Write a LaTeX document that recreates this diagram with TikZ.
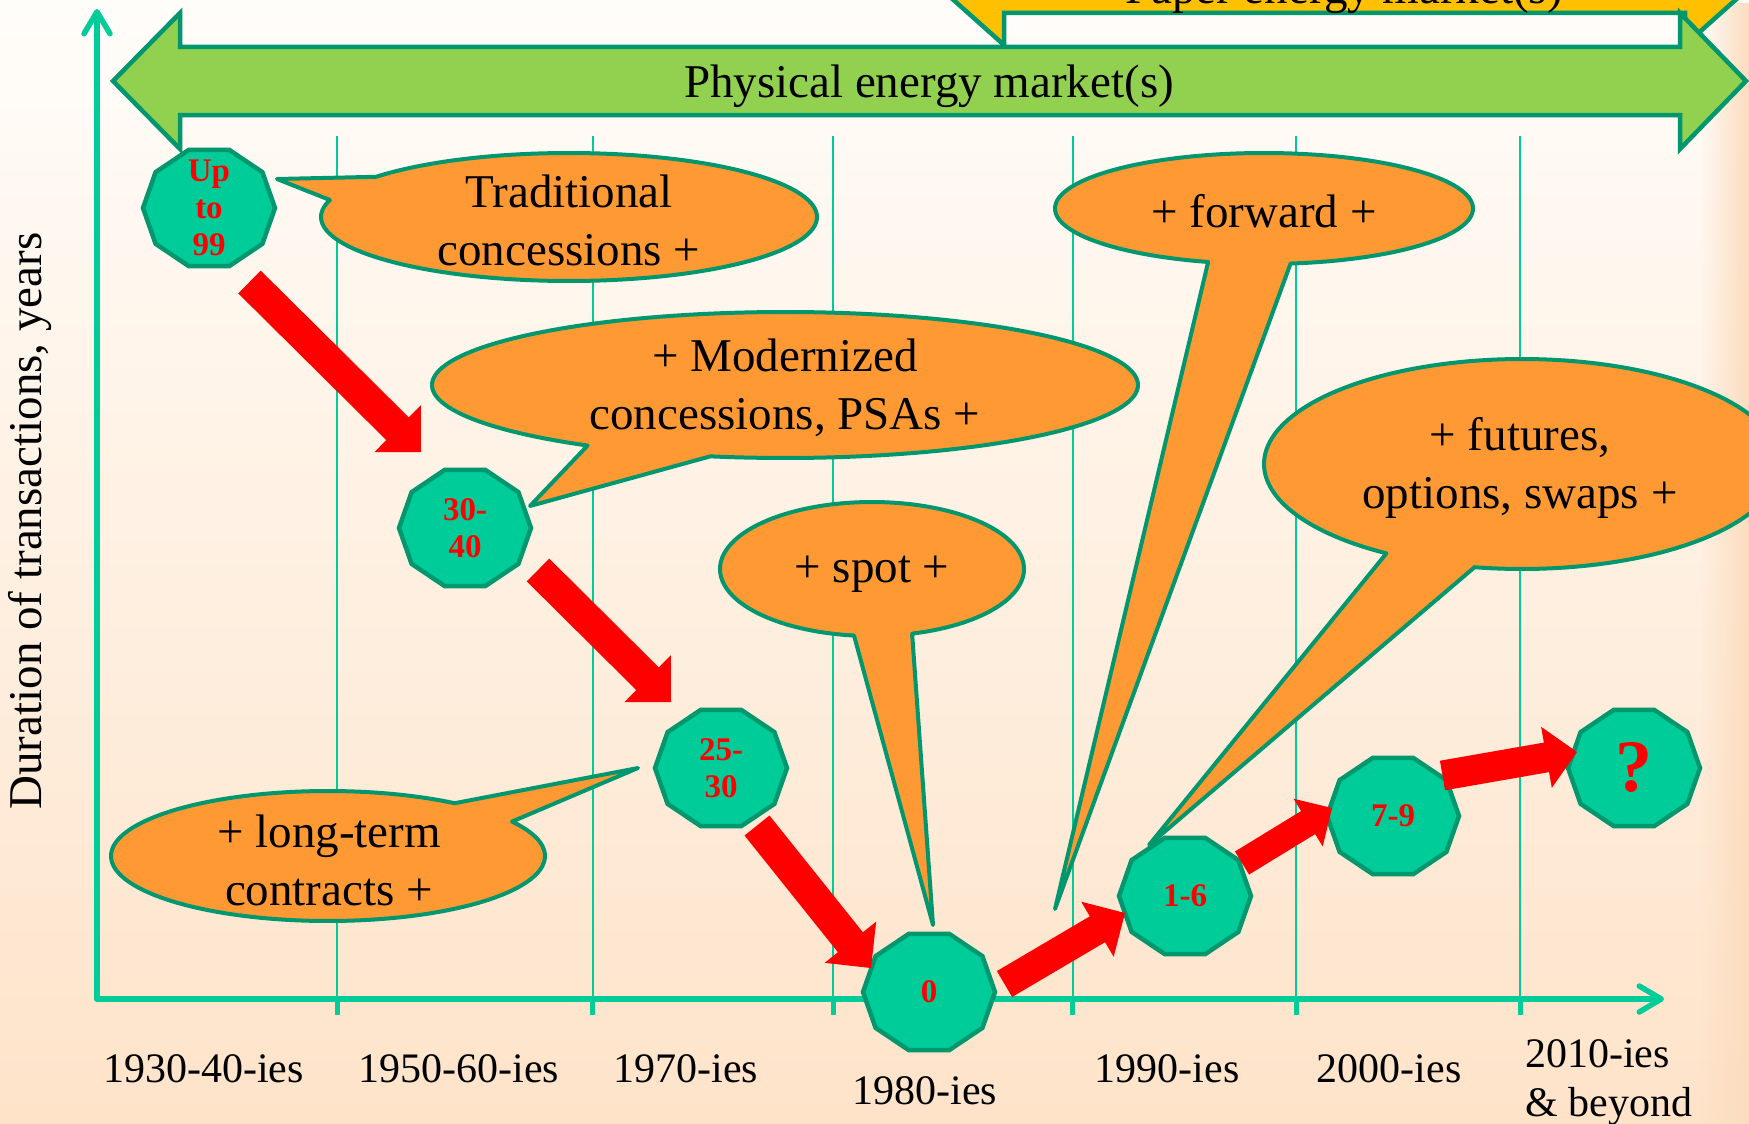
\documentclass[tikz,border=0pt]{standalone}
\usepackage{fontspec}
\setmainfont{Liberation Serif}
\usetikzlibrary{calc,fadings,arrows.meta}
\definecolor{teal1}{HTML}{00CC99}
\definecolor{tealdark}{HTML}{00966E}
\definecolor{bubblefill}{HTML}{FF9933}
\definecolor{greenarr}{HTML}{92D050}
\definecolor{paperarr}{HTML}{FFC000}
\definecolor{bgtop}{RGB}{255,253,250}
\definecolor{bgbot}{RGB}{254,227,201}
\definecolor{edgecol}{RGB}{252,220,190}
\tikzfading[name=fadeR, left color=transparent!100, right color=transparent!0]

% callout: cx, cy, rx, ry, angle a, angle b, a+360, tip coordinate name
\newcommand\mycallout[8]{%
  \filldraw[bubble] ({#1+#3*cos(#5)},{#2+#4*sin(#5)}) -- (#8) --
    plot[domain=#6:#7, samples=160] ({#1+#3*cos(\x)},{#2+#4*sin(\x)}) -- cycle;}
% decagon: name, x, y, text
\newcommand\mydeca[4]{%
  \filldraw[decag] plot[samples at={0,36,...,324}] ({#2+66*cos(\x)},{#3+61*sin(\x)}) -- cycle;
  \node[decatext] (#1) at (#2,#3) {#4};}
% block arrow: tail, tip, half shaft, half head, head length
\newcommand\redarrow[5]{%
  \fill[redarr] let \p1=(#1), \p2=(#2), \n1={atan2(\y2-\y1,\x2-\x1)} in
    ($(#1)+(\n1+90:#3pt)$) -- ($(#2)+(\n1+180:#5pt)+(\n1+90:#3pt)$) --
    ($(#2)+(\n1+180:#5pt)+(\n1+90:#4pt)$) -- (#2) --
    ($(#2)+(\n1+180:#5pt)+(\n1-90:#4pt)$) -- ($(#2)+(\n1+180:#5pt)+(\n1-90:#3pt)$) --
    ($(#1)+(\n1-90:#3pt)$) -- cycle;}

\begin{document}
\begin{tikzpicture}[x=1pt,y=-1pt,
  axis/.style={teal1, line width=5.5pt, line cap=round, -{Straight Barb[length=22pt,width=26pt,round]}},
  gridline/.style={teal1, line width=2pt},
  tickmark/.style={teal1, line width=5pt},
  bubble/.style={fill=bubblefill, draw=tealdark, line width=4pt, line join=round},
  decag/.style={fill=teal1, draw=tealdark, line width=4.5pt, line join=miter},
  decatext/.style={text=red, font=\bfseries\fontsize{33}{37}\selectfont, align=center, inner sep=0pt},
  bubtext/.style={font=\fontsize{47}{58}\selectfont, align=center, inner sep=0pt},
  yeartext/.style={font=\fontsize{42}{50}\selectfont, inner sep=0pt, anchor=base},
  marketarr/.style={draw=tealdark, line width=4.5pt, line join=miter},
  redarr/.style={fill=red}]

\useasboundingbox (0,0) rectangle (1749,1124);
\clip (0,0) rectangle (1749,1124);

% background
\shade[top color=bgtop, bottom color=bgbot] (0,0) rectangle (1749,1124);
\fill[edgecol, path fading=fadeR] (1700,0) rectangle (1749,1124);

% grid lines and ticks
\foreach \gx in {337,592.5,833,1072.5,1296,1520} {
  \draw[gridline] (\gx,136) -- (\gx,999);
  \draw[tickmark] (\gx,999) -- (\gx,1015);
}

% axes
\coordinate (O) at (97,999);
\coordinate (ytop) at (97,9);
\coordinate (xend) at (1664,999);
\draw[axis] (O) -- (ytop);
\draw[axis] (O) -- (xend);

% market arrows
\filldraw[marketarr, fill=paperarr] (930,-21) -- (1004,-87) -- (1004,-55) -- (1685,-55) -- (1685,-87)
  -- (1759,-21) -- (1685,45) -- (1685,13) -- (1004,13) -- (1004,45) -- cycle;
\node[bubtext, anchor=base] (paper) at (1344,4) {Paper energy market(s)};
\filldraw[marketarr, fill=greenarr] (113,81) -- (180,13) -- (180,47) -- (1680,47) -- (1680,13)
  -- (1746,81) -- (1680,149) -- (1680,115) -- (180,115) -- (180,149) -- cycle;
\node[bubtext, anchor=base] (physical) at (929,98) {Physical energy market(s)};

% callouts
\coordinate (tip1) at (277,179);
\coordinate (tip2) at (530,506);
\coordinate (tip3) at (933,925);
\coordinate (tip4) at (1055,909);
\coordinate (tip5) at (1149,845);
\coordinate (tip6) at (638,768);
\mycallout{569}{217}{248}{64}{195.4}{218.9}{555.4}{tip1}
\mycallout{785}{385}{353}{73}{102.2}{124}{462.2}{tip2}
\mycallout{872}{569}{152}{67}{74.7}{96.8}{434.7}{tip3}
\mycallout{1264}{208.5}{209}{55.5}{82.7}{105.5}{442.7}{tip4}
\mycallout{1522}{464}{258}{105}{100.6}{121.7}{460.6}{tip5}
\mycallout{328}{856}{217}{65}{305.7}{328}{665.7}{tip6}
\node[bubtext] (trad) at (569,220) {Traditional\\concessions +};
\node[bubtext] (modern) at (785,388) {+ Modernized\\concessions, PSAs +};
\node[bubtext] (spot) at (872,574) {+ spot +};
\node[bubtext] (forward) at (1264,211) {+ forward +};
\node[bubtext] (futures) at (1520,468) {+ futures,\\options, swaps +};
\node[bubtext] (longterm) at (329,860) {+ long-term\\contracts +};

% decagons
\mydeca{d1}{209}{208}{Up\\to\\99}
\mydeca{d2}{465}{528}{30-\\40}
\mydeca{d3}{721}{768}{25-\\30}
\mydeca{d4}{929}{992}{0}
\mydeca{d5}{1185}{896}{1-6}
\mydeca{d6}{1393}{816}{7-9}
\filldraw[decag] plot[samples at={0,36,...,324}] ({1634+66*cos(\x)},{768+61*sin(\x)}) -- cycle;
\node[text=red, font=\bfseries\fontsize{74}{80}\selectfont, inner sep=0pt] (d7) at (1634,768) {?};

% red arrows
\coordinate (a1s) at (249.5,282);  \coordinate (a1e) at (421,452);
\coordinate (a2s) at (538,570);    \coordinate (a2e) at (671,702);
\coordinate (a3s) at (757,825.5);  \coordinate (a3e) at (871,968);
\coordinate (a4s) at (1004.5,984); \coordinate (a4e) at (1125,913);
\coordinate (a5s) at (1242,863);   \coordinate (a5e) at (1332,808);
\coordinate (a6s) at (1442.5,775.5); \coordinate (a6e) at (1577,752);
\redarrow{a1s}{a1e}{16}{33}{33}
\redarrow{a2s}{a2e}{16}{33}{33}
\redarrow{a3s}{a3e}{16}{33}{33}
\redarrow{a4s}{a4e}{15}{32}{32}
\redarrow{a5s}{a5e}{13.5}{28}{28}
\redarrow{a6s}{a6e}{15}{31}{31}

% axis labels
\node[rotate=90, anchor=base, font=\fontsize{47}{56}\selectfont, inner sep=0pt] (ylab) at (41,521) {Duration of transactions, years};
\node[yeartext] (y1) at (203.5,1082) {1930-40-ies};
\node[yeartext] (y2) at (459,1082) {1950-60-ies};
\node[yeartext] (y3) at (686,1082) {1970-ies};
\node[yeartext] (y4) at (925,1104) {1980-ies};
\node[yeartext] (y5) at (1167,1082) {1990-ies};
\node[yeartext] (y6) at (1389,1082) {2000-ies};
\node[yeartext, anchor=base west] (y7a) at (1525,1067) {2010-ies};
\node[yeartext, anchor=base west] (y7b) at (1525,1116) {\& beyond};
\end{tikzpicture}
\end{document}
